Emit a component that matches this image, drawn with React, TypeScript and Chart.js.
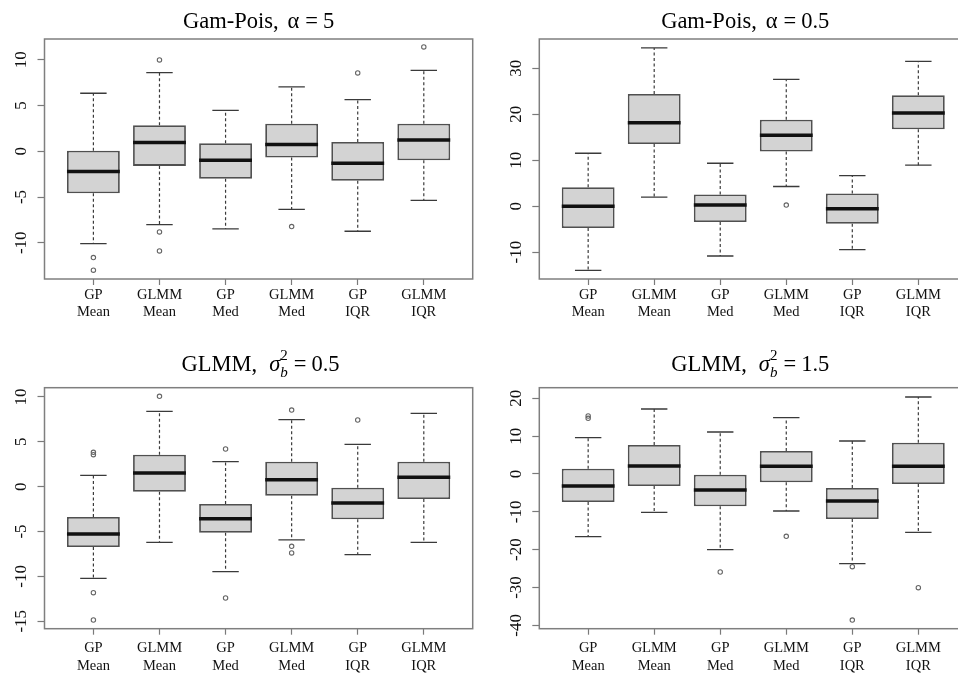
import React, { useEffect, useRef } from "react";
import { Chart, registerables } from "chart.js";

Chart.register(...registerables);

const FONT = '"Liberation Serif", "Times New Roman", Times, serif';

// ---------- shared categories ----------
const categories: string[][] = [
  ["GP", "Mean"],
  ["GLMM", "Mean"],
  ["GP", "Med"],
  ["GLMM", "Med"],
  ["GP", "IQR"],
  ["GLMM", "IQR"],
];
const positions = [1, 2, 3, 4, 5, 6];

// ---------- Panel A: Gam-Pois, alpha = 5 ----------
const aLower = [-10.09, -8.01, -8.49, -6.34, -8.74, -5.36];
const aQ1 = [-4.59, -1.6, -2.99, -0.69, -3.21, -0.98];
const aMedian = [-2.22, 0.95, -0.98, 0.73, -1.31, 1.24];
const aQ3 = [0.07, 2.84, 0.87, 3.02, 1.02, 3.02];
const aUpper = [6.34, 8.6, 4.48, 7.03, 5.65, 8.85];
const aOutliers = [[-11.62, -13.0], [9.98, -8.82, -10.89], [], [-8.23], [8.56], [11.4]];
const aTicks = [-10, -5, 0, 5, 10];
const aRange = [-13.96, 12.27];

// ---------- Panel B: Gam-Pois, alpha = 0.5 ----------
const bLower = [-13.96, 1.95, -10.85, 4.27, -9.47, 8.9];
const bQ1 = [-4.77, 13.5, -3.47, 11.86, -3.83, 16.7];
const bMedian = [0.0, 18.15, 0.22, 15.4, -0.58, 20.25];
const bQ3 = [4.12, 24.4, 2.53, 18.8, 2.75, 24.1];
const bUpper = [11.5, 34.4, 9.33, 27.55, 6.65, 31.5];
const bOutliers = [[], [], [], [0.22], [], []];
const bTicks = [-10, 0, 10, 20, 30];
const bRange = [-15.85, 36.35];

// ---------- Panel C: GLMM, sigma_b^2 = 0.5 ----------
const cLower = [-10.22, -6.2, -9.47, -5.94, -7.58, -6.2];
const cQ1 = [-6.72, -0.56, -5.13, -1.0, -3.64, -1.37];
const cMedian = [-5.27, 1.52, -3.57, 0.78, -1.82, 1.04];
const cQ3 = [-3.38, 3.57, -1.93, 2.79, -0.11, 2.79];
const cUpper = [1.26, 8.39, 2.79, 7.47, 4.72, 8.17];
const cOutliers = [[3.83, 3.57, -11.81, -14.86], [10.07], [4.2, -12.41], [8.54, -6.65, -7.39], [7.43], []];
const cTicks = [-15, -10, -5, 0, 5, 10];
const cRange = [-15.83, 11.03];

// ---------- Panel D: GLMM, sigma_b^2 = 1.5 ----------
const dLower = [-16.56, -10.13, -20.0, -9.78, -23.7, -15.42];
const dQ1 = [-7.4, -3.17, -8.55, -2.2, -11.89, -2.64];
const dMedian = [-3.17, 2.11, -4.23, 2.03, -7.14, 2.03];
const dQ3 = [1.41, 7.67, -0.18, 6.08, -3.7, 8.28];
const dUpper = [9.6, 17.18, 11.1, 14.89, 8.72, 20.35];
const dOutliers = [[15.33, 14.71], [], [-25.9], [-16.48], [-24.5, -38.6], [-30.04]];
const dTicks = [-40, -30, -20, -10, 0, 10, 20];
const dRange = [-40.89, 22.81];

// ---------- titles ----------
type Seg = { text?: string; gap?: number; italic?: boolean; size?: number; dy?: number; advance?: boolean };
const titleA: Seg[] = [{ text: "Gam-Pois," }, { gap: 9 }, { text: "α" }, { gap: 6 }, { text: "=" }, { gap: 5 }, { text: "5" }];
const titleB: Seg[] = [{ text: "Gam-Pois," }, { gap: 9 }, { text: "α" }, { gap: 6 }, { text: "=" }, { gap: 5 }, { text: "0.5" }];
const titleC: Seg[] = [
  { text: "GLMM," }, { gap: 12 }, { text: "σ", italic: true },
  { text: "b", italic: true, size: 15, dy: 6, advance: false }, { text: "2", size: 15, dy: -11 },
  { gap: 6 }, { text: "=" }, { gap: 5 }, { text: "0.5" },
];
const titleD: Seg[] = [
  { text: "GLMM," }, { gap: 12 }, { text: "σ", italic: true },
  { text: "b", italic: true, size: 15, dy: 6, advance: false }, { text: "2", size: 15, dy: -11 },
  { gap: 6 }, { text: "=" }, { gap: 5 }, { text: "1.5" },
];

const BOX_HALF = 0.4;
const CAP_HALF = 0.2;

type PanelData = {
  lower: number[]; q1: number[]; median: number[]; q3: number[]; upper: number[];
  outliers: number[][]; ticks: number[]; range: number[]; title: Seg[];
};

const panels: PanelData[] = [
  { lower: aLower, q1: aQ1, median: aMedian, q3: aQ3, upper: aUpper, outliers: aOutliers, ticks: aTicks, range: aRange, title: titleA },
  { lower: bLower, q1: bQ1, median: bMedian, q3: bQ3, upper: bUpper, outliers: bOutliers, ticks: bTicks, range: bRange, title: titleB },
  { lower: cLower, q1: cQ1, median: cMedian, q3: cQ3, upper: cUpper, outliers: cOutliers, ticks: cTicks, range: cRange, title: titleC },
  { lower: dLower, q1: dQ1, median: dMedian, q3: dQ3, upper: dUpper, outliers: dOutliers, ticks: dTicks, range: dRange, title: titleD },
];

const layouts = [
  { left: 0, top: 0, width: 479, height: 336, yAxisW: 44.5, padRight: 6.3, padTop: 39, xAxisH: 57, xPad: 1, titleDx: 0, titleRise: 10.7 },
  { left: 479, top: 0, width: 495, height: 336, yAxisW: 60.3, padRight: 6.8, padTop: 39, xAxisH: 57, xPad: 1, titleDx: -8, titleRise: 10.7 },
  { left: 0, top: 336, width: 479, height: 337, yAxisW: 44.5, padRight: 6.3, padTop: 51.7, xAxisH: 44.3, xPad: 5, titleDx: 2, titleRise: 16.5 },
  { left: 479, top: 336, width: 495, height: 337, yAxisW: 60.3, padRight: 6.8, padTop: 51.7, xAxisH: 44.3, xPad: 5, titleDx: -3, titleRise: 16.5 },
];

const TITLE_SIZE = 22.5;

function makeTitlePlugin(segs: Seg[], dx: number, rise: number) {
  return {
    id: "rTitle",
    afterDraw(chart: any) {
      const { ctx, chartArea } = chart;
      const fontOf = (s: Seg) => `${s.italic ? "italic " : ""}${s.size || TITLE_SIZE}px ${FONT}`;
      ctx.save();
      ctx.fillStyle = "#000";
      ctx.textAlign = "left";
      ctx.textBaseline = "alphabetic";
      let total = 0;
      for (const s of segs) {
        if (s.gap) { total += s.gap; continue; }
        ctx.font = fontOf(s);
        if (s.advance !== false) total += ctx.measureText(s.text).width;
      }
      let x = (chartArea.left + chartArea.right) / 2 + dx - total / 2;
      const base = chartArea.top - rise;
      for (const s of segs) {
        if (s.gap) { x += s.gap; continue; }
        ctx.font = fontOf(s);
        ctx.fillText(s.text, x, base + (s.dy || 0));
        if (s.advance !== false) x += ctx.measureText(s.text).width;
      }
      ctx.restore();
    },
  };
}

const framePlugin = {
  id: "rFrame",
  afterDatasetsDraw(chart: any) {
    const { ctx, chartArea: a } = chart;
    ctx.save();
    ctx.strokeStyle = "#7f7f7f";
    ctx.lineWidth = 1.5;
    ctx.strokeRect(a.left, a.top, a.right - a.left, a.bottom - a.top);
    ctx.restore();
  },
};

function buildDatasets(d: PanelData) {
  const boxes: any[] = [];
  const whiskers: any[] = [];
  const caps: any[] = [];
  const medians: any[] = [];
  const outl: any[] = [];
  positions.forEach((x, i) => {
    boxes.push({ x, y: [d.q1[i], d.q3[i]] });
    whiskers.push({ x, y: d.q3[i] }, { x, y: d.upper[i] }, { x, y: null }, { x, y: d.q1[i] }, { x, y: d.lower[i] }, { x, y: null });
    caps.push(
      { x: x - CAP_HALF, y: d.upper[i] }, { x: x + CAP_HALF, y: d.upper[i] }, { x, y: null },
      { x: x - CAP_HALF, y: d.lower[i] }, { x: x + CAP_HALF, y: d.lower[i] }, { x, y: null }
    );
    medians.push({ x: x - BOX_HALF, y: d.median[i] }, { x: x + BOX_HALF, y: d.median[i] }, { x, y: null });
    d.outliers[i].forEach((v) => outl.push({ x, y: v }));
  });
  return [
    { type: "line", label: "median", data: medians, order: 1, borderColor: "#111", borderWidth: 3.5, pointRadius: 0, spanGaps: false, borderCapStyle: "butt" },
    { type: "line", label: "outliers", data: outl, order: 2, showLine: false, pointRadius: 2.2, pointBorderWidth: 1.1, pointBorderColor: "#666", pointBackgroundColor: "rgba(255,255,255,0)" },
    { type: "line", label: "caps", data: caps, order: 3, borderColor: "#3a3a3a", borderWidth: 1.3, pointRadius: 0, spanGaps: false },
    { type: "line", label: "whiskers", data: whiskers, order: 4, borderColor: "#3a3a3a", borderWidth: 1.2, borderDash: [3, 2.5], pointRadius: 0, spanGaps: false },
    { type: "bar", label: "box", data: boxes, order: 5, backgroundColor: "#d3d3d3", borderColor: "#505050", borderWidth: 1.8, borderSkipped: false, barPercentage: 0.8, categoryPercentage: 1 },
  ];
}

function Panel({ idx }: { idx: number }) {
  const ref = useRef<HTMLCanvasElement | null>(null);
  const d = panels[idx];
  const L = layouts[idx];
  useEffect(() => {
    const chart = new Chart(ref.current as HTMLCanvasElement, {
      type: "bar",
      data: { datasets: buildDatasets(d) as any },
      options: {
        animation: false,
        responsive: false,
        events: [],
        layout: { padding: { left: 0, right: L.padRight, top: L.padTop, bottom: 0 }, autoPadding: false } as any,
        plugins: { legend: { display: false }, tooltip: { enabled: false }, title: { display: false } },
        scales: {
          x: {
            type: "linear",
            min: 0.26,
            max: 6.74,
            offset: false,
            grid: { display: true, offset: false, drawOnChartArea: false, drawTicks: true, tickLength: 6, color: "#7a7a7a", tickColor: "#7a7a7a", tickWidth: 1.2 } as any,
            border: { display: false },
            afterBuildTicks: (s: any) => { s.ticks = positions.map((v) => ({ value: v })); },
            afterFit: (s: any) => { s.height = L.xAxisH; },
            ticks: {
              autoSkip: false, maxRotation: 0, minRotation: 0, padding: L.xPad, color: "#111",
              font: { family: FONT, size: 14.5, lineHeight: 1.2 },
              callback: (v: any) => categories[positions.indexOf(Number(v))] ?? "",
            },
          },
          y: {
            type: "linear",
            min: d.range[0],
            max: d.range[1],
            grid: { display: true, drawOnChartArea: false, drawTicks: true, tickLength: 7, color: "#7a7a7a", tickColor: "#7a7a7a", tickWidth: 1.2 } as any,
            border: { display: false },
            afterBuildTicks: (s: any) => { s.ticks = d.ticks.map((v) => ({ value: v })); },
            afterFit: (s: any) => { s.width = L.yAxisW; },
            ticks: {
              minRotation: 90, maxRotation: 90, crossAlign: "center", padding: 4.5, color: "#111",
              font: { family: FONT, size: 17 },
              callback: (v: any) => String(v),
            } as any,
          },
        },
      },
      plugins: [makeTitlePlugin(d.title, L.titleDx, L.titleRise), framePlugin],
    });
    return () => chart.destroy();
  }, []);
  return (
    <canvas
      ref={ref}
      width={L.width}
      height={L.height}
      style={{ position: "absolute", left: L.left, top: L.top, width: L.width, height: L.height }}
    />
  );
}

export default function App() {
  return (
    <div style={{ position: "absolute", left: 0, top: 0, width: 958, height: 673, overflow: "hidden", background: "#fff" }}>
      {panels.map((_, i) => (
        <Panel key={i} idx={i} />
      ))}
    </div>
  );
}
